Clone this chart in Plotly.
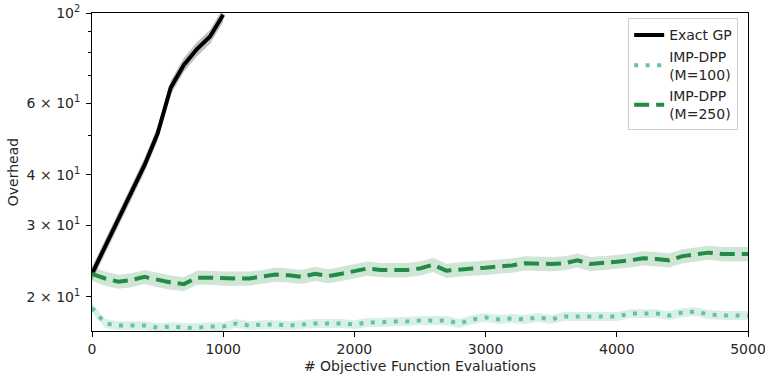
import plotly.graph_objects as go

# Objective-function evaluations (x) for each method
x_exact = [0, 100, 200, 300, 400, 500, 600, 700, 800, 900, 1000]
x_imp = list(range(0, 5001, 100))

# Mean overhead per method
exact_gp = [22.8, 26.6, 31.0, 36.0, 42.2, 50.5, 65.5, 74.5, 81.5, 87.5, 99.0]

imp_m100 = [18.8, 17.2, 17.0, 17.0, 17.0, 16.8, 16.9, 16.8, 16.8, 16.9,
            16.9, 17.2, 17.0, 17.1, 17.1, 17.0, 17.1, 17.2, 17.2, 17.2,
            17.1, 17.3, 17.3, 17.4, 17.4, 17.5, 17.5, 17.5, 17.2, 17.6,
            17.8, 17.6, 17.7, 17.6, 17.8, 17.6, 17.9, 17.9, 17.9, 17.9,
            17.9, 18.2, 18.2, 18.2, 18.0, 18.3, 18.4, 18.1, 18.0, 18.0,
            18.0]

imp_m250 = [22.8, 22.2, 21.8, 22.0, 22.4, 22.0, 21.7, 21.5, 22.3, 22.3,
            22.2, 22.2, 22.2, 22.4, 22.7, 22.6, 22.4, 22.8, 22.5, 22.8,
            23.1, 23.5, 23.3, 23.3, 23.3, 23.5, 24.0, 23.2, 23.4, 23.5,
            23.6, 23.7, 23.9, 24.2, 24.1, 24.1, 24.2, 24.6, 24.1, 24.2,
            24.4, 24.6, 24.9, 24.8, 24.6, 25.2, 25.5, 25.7, 25.5, 25.5,
            25.5]

# Relative spread of the shaded bands
spread_exact = 0.04
spread_m100 = 0.025
spread_m250 = 0.04

y_tick_vals = [20, 30, 40, 60, 100]
y_tick_text = ["2 × 10<sup>1</sup>", "3 × 10<sup>1</sup>", "4 × 10<sup>1</sup>",
               "6 × 10<sup>1</sup>", "10<sup>2</sup>"]
y_minor_vals = [50, 70, 80, 90]
x_tick_vals = [0, 1000, 2000, 3000, 4000, 5000]

C_EXACT = "#000000"
C_M100 = "#66c2a4"
C_M250 = "#238b45"


def band(xs, ys, rel, fill):
    upper = [v * (1 + rel) for v in ys]
    lower = [v * (1 - rel) for v in ys]
    return go.Scatter(x=xs + xs[::-1], y=upper + lower[::-1], fill="toself",
                      fillcolor=fill, line=dict(width=0), mode="lines",
                      hoverinfo="skip", showlegend=False)


fig = go.Figure()
fig.add_trace(band(x_exact, exact_gp, spread_exact, "rgba(0,0,0,0.25)"))
fig.add_trace(band(x_imp, imp_m100, spread_m100, "rgba(102,194,164,0.25)"))
fig.add_trace(band(x_imp, imp_m250, spread_m250, "rgba(35,139,69,0.22)"))

fig.add_trace(go.Scatter(x=x_exact, y=exact_gp, mode="lines", name="Exact GP",
                         line=dict(color=C_EXACT, width=4)))
fig.add_trace(go.Scatter(x=x_imp, y=imp_m100, mode="lines",
                         name="IMP-DPP<br>(M=100)",
                         line=dict(color=C_M100, width=4, dash="4px,7.5px")))
fig.add_trace(go.Scatter(x=x_imp, y=imp_m250, mode="lines",
                         name="IMP-DPP<br>(M=250)",
                         line=dict(color=C_M250, width=4, dash="15px,7px")))

font = dict(family="DejaVu Sans", size=14, color="#262626")

fig.update_layout(
    width=765, height=374,
    margin=dict(l=92, r=17, t=13, b=43),
    paper_bgcolor="white", plot_bgcolor="white",
    font=font,
    showlegend=True,
    legend=dict(x=0.985, y=0.983, xanchor="right", yanchor="top",
                bgcolor="white", bordercolor="#cccccc", borderwidth=1,
                font=dict(family="DejaVu Sans", size=14, color="#262626"),
                tracegroupgap=2),
    xaxis=dict(range=[0, 5000], tickvals=x_tick_vals, showgrid=False,
               zeroline=False, showline=True, linecolor="black", linewidth=1,
               mirror=True, ticks="outside", ticklen=5, tickcolor="black",
               automargin=False, ticklabeloverflow="allow",
               title=dict(text="# Objective Function Evaluations",
                          standoff=18, font=font)),
    yaxis=dict(type="log", range=[1.217, 2.0], tickvals=y_tick_vals,
               ticktext=y_tick_text, showgrid=False, zeroline=False,
               showline=True, linecolor="black", linewidth=1, mirror=True,
               ticks="outside", ticklen=5, tickcolor="black",
               automargin=False, ticklabeloverflow="allow",
               ticklabelstandoff=3,
               minor=dict(tickvals=y_minor_vals, ticks="outside", ticklen=3,
                          tickcolor="black", showgrid=False),
               title=dict(text="Overhead", standoff=4, font=font)),
)

fig.write_html("out.html")
